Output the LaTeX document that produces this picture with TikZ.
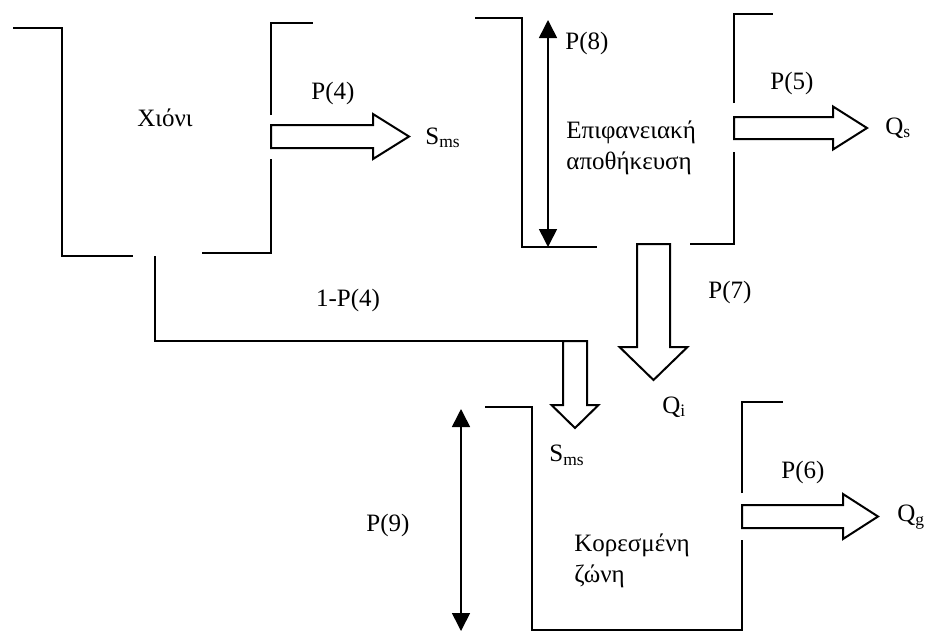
\documentclass[tikz,border=0pt]{standalone}
\usepackage{fontspec}
\setmainfont{Liberation Serif}
\usetikzlibrary{arrows.meta}

% block arrow: start, angle, shaft length, shaft half width, head length, head half width
\newcommand{\flowarrow}[6]{%
  \draw [flow, shift={(#1)}, rotate=#2]
    (0,-#4) -- (#3,-#4) -- (#3,-#6) -- ({#3+#5},0) -- (#3,#6) -- (#3,#4) -- (0,#4) -- cycle;}

\begin{document}
\begin{tikzpicture}
  [x=0.5pt,y=-0.5pt,
   wall/.style={line width=1.2pt},
   flow/.style={draw,line width=1pt,fill=white},
   level/.style={line width=0.8pt,{Triangle[length=9pt,width=9pt]}-{Triangle[length=9pt,width=9pt]}},
   every node/.style={font=\fontsize{12.5}{15.5}\selectfont,inner sep=0pt}]
  \useasboundingbox (0,0) rectangle (925,633);

  % snow
  \draw [wall] (13,28) -- (62,28) -- (62,256) -- (133,256);
  \draw [wall] (202,253) -- (271,253) -- (271,159);
  \draw [wall] (271,115) -- (271,23) -- (313,23);
  % surface storage
  \draw [wall] (475,18) -- (522,18) -- (522,247) -- (597,247);
  \draw [wall] (690,244) -- (734,244) -- (734,152);
  \draw [wall] (734,103) -- (734,14) -- (773,14);
  % saturated zone
  \draw [wall] (485,407) -- (532,407) -- (532,630) -- (742,630) -- (742,540);
  \draw [wall] (742,493) -- (742,402) -- (783,402);

  \node (snow) at (165,118) {Χιόνι};
  \node [anchor=west,align=left] (surf) at (566,148) {Επιφανειακή\\αποθήκευση};
  \node [anchor=west,align=left] (sat) at (574,561) {Κορεσμένη\\ζώνη};

  \node (p4) at (333,93) {P(4)};
  \node (p5) at (792,83) {P(5)};
  \node (p6) at (803,472) {P(6)};
  \node (p7) at (730,292) {P(7)};
  \node (p8) at (587,43) {P(8)};
  \node (p9) at (388,525) {P(9)};
  \node (p4c) at (348,300) {1-P(4)};

  \node [anchor=west] (sms1) at (425,138) {S\textsubscript{ms}};
  \node [anchor=west] (sms2) at (549,455) {S\textsubscript{ms}};
  \node [anchor=west] (qs) at (885,128) {Q\textsubscript{s}};
  \node [anchor=west] (qi) at (662,407) {Q\textsubscript{i}};
  \node [anchor=west] (qg) at (897,517) {Q\textsubscript{g}};

  \coordinate (a4) at (271,136.5);
  \coordinate (a5) at (734,128);
  \coordinate (a6) at (742,516.5);
  \coordinate (a7) at (653.5,244);
  \coordinate (am) at (575,341);
  \coordinate (drop) at (155,256);

  \draw [line width=1pt] (drop) |- (am);
  \flowarrow{a4}{0}{102}{11.5}{36}{22.5}
  \flowarrow{a5}{0}{99}{11}{34}{21.5}
  \flowarrow{a6}{0}{101}{11.5}{35}{22.5}
  \flowarrow{a7}{-90}{103}{16.5}{33}{34}
  \flowarrow{am}{-90}{64}{12}{23}{23.5}

  \coordinate (l8t) at (548,20);
  \coordinate (l8b) at (548,247);
  \coordinate (l9t) at (461,409);
  \coordinate (l9b) at (461,631);
  \foreach \from/\to in {l8t/l8b,l9t/l9b}
    \draw [level] (\from) -- (\to);

\end{tikzpicture}
\end{document}
